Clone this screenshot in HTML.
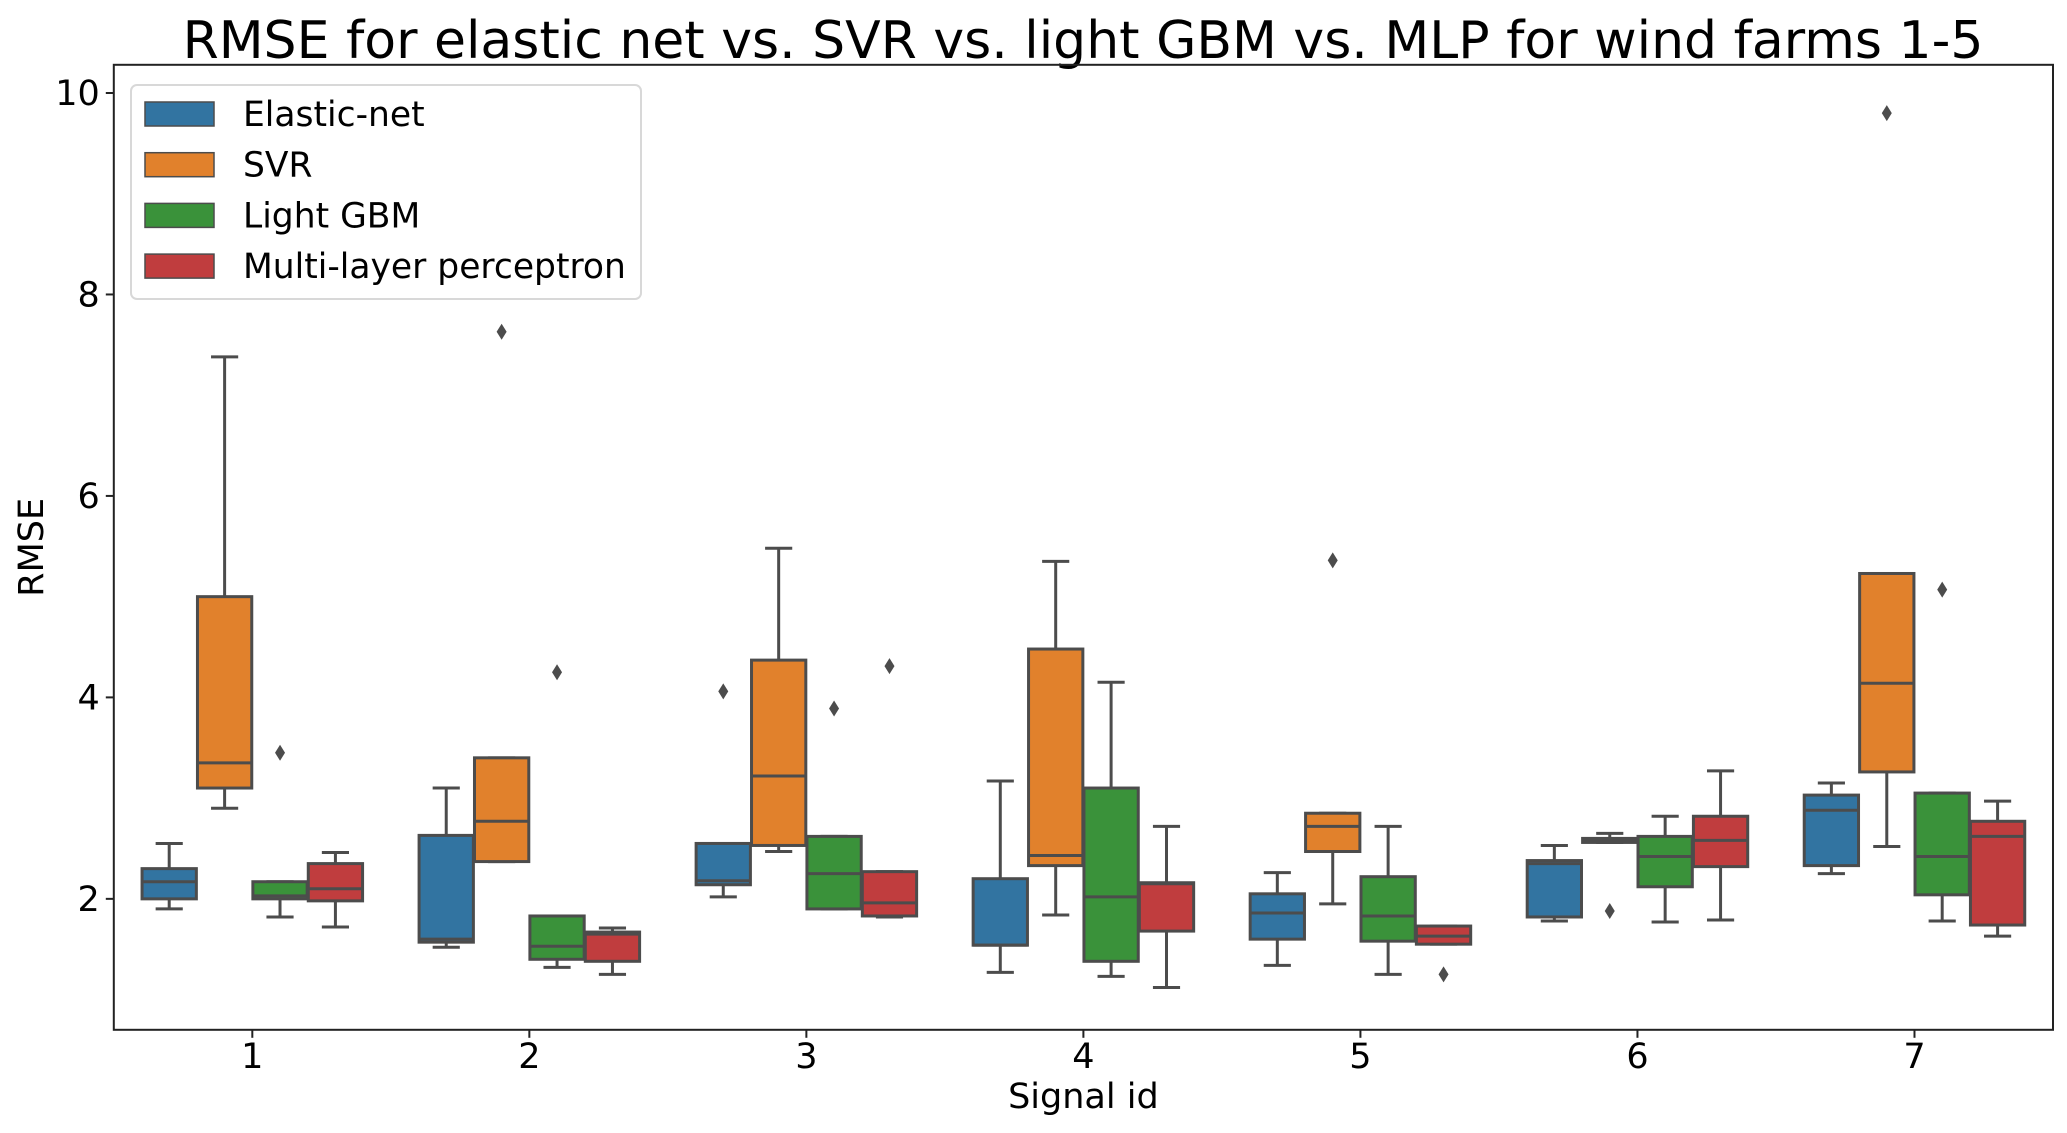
<!DOCTYPE html>
<html><head><meta charset="utf-8"><style>
html,body{margin:0;padding:0;background:#fff;}
svg{display:block;font-family:"DejaVu Sans","Liberation Sans",sans-serif;}
</style></head><body>
<svg id="chart" width="2067" height="1133" viewBox="0 0 2067 1133" xmlns="http://www.w3.org/2000/svg">
<rect x="0" y="0" width="2067" height="1133" fill="#fff"/>
<text x="1083" y="58" font-size="52" text-anchor="middle" fill="#000">RMSE for elastic net vs. SVR vs. light GBM vs. MLP for wind farms 1-5</text>
<g id="plot"></g>
<g id="axes"></g>
<g id="legend"></g>
</svg>
<script>
const categories = ["1","2","3","4","5","6","7"];
const seriesNames = ["Elastic-net","SVR","Light GBM","Multi-layer perceptron"];
const seriesColors = ["#3274a1","#e1812c","#3a923a","#c03d3e"];
const yTicks = [2,4,6,8,10];
// each box: [whiskerLow, q1, median, q3, whiskerHigh]
const elasticNet = [[1.9,2.0,2.17,2.3,2.55],[1.52,1.57,1.6,2.63,3.1],[2.02,2.14,2.18,2.55,2.55],[1.27,1.54,1.54,2.2,3.17],[1.34,1.6,1.86,2.05,2.26],[1.78,1.82,2.35,2.38,2.53],[2.25,2.33,2.88,3.03,3.15]];
const svr = [[2.9,3.1,3.35,5.0,7.38],[2.37,2.37,2.77,3.4,3.4],[2.47,2.53,3.22,4.37,5.48],[1.84,2.33,2.43,4.48,5.35],[1.95,2.47,2.72,2.85,2.85],[2.56,2.56,2.58,2.6,2.65],[2.52,3.26,4.14,5.23,5.23]];
const lightGbm = [[1.82,2.0,2.03,2.17,2.17],[1.32,1.4,1.53,1.83,1.83],[1.9,1.9,2.25,2.62,2.62],[1.23,1.38,2.02,3.1,4.15],[1.25,1.58,1.83,2.22,2.72],[1.77,2.12,2.42,2.62,2.82],[1.78,2.04,2.42,3.05,3.05]];
const mlp = [[1.72,1.98,2.1,2.35,2.46],[1.25,1.38,1.65,1.67,1.71],[1.82,1.83,1.96,2.27,2.27],[1.12,1.68,2.15,2.16,2.72],[1.55,1.55,1.63,1.73,1.73],[1.79,2.32,2.58,2.82,3.27],[1.63,1.74,2.62,2.77,2.97]];
// outliers: [categoryIndex, seriesIndex, value]
const outliers = [[0,2,3.45],[1,1,7.63],[1,2,4.25],[2,0,4.06],[2,2,3.89],[2,3,4.31],[4,1,5.36],[4,3,1.25],[5,1,1.88],[6,1,9.8],[6,2,5.07]];

const NS="http://www.w3.org/2000/svg";
const L=113.8,R=2053,T=64.8,B=1029.8,yMin=0.7,yMax=10.28;
const catW=(R-L)/categories.length;
function xScale(i){return L+(i+0.5)*catW;}
function yScale(v){return B-(v-yMin)/(yMax-yMin)*(B-T);}
function mk(tag,attrs,parent){const e=document.createElementNS(NS,tag);for(const k in attrs)e.setAttribute(k,attrs[k]);parent.appendChild(e);return e;}
const plot=document.getElementById('plot'),axes=document.getElementById('axes'),leg=document.getElementById('legend');
const allSeries=[elasticNet,svr,lightGbm,mlp];
const LC="#4c4c4c",LW=3;
const bw=catW*0.2*0.98;
allSeries.forEach((ser,s)=>{
  ser.forEach((d,i)=>{
    const cx=xScale(i)+(s-1.5)*catW*0.2;
    const g=mk('g',{},plot);
    
    
    const [lo,q1,md,q3,hi]=d;
    mk('line',{x1:cx,x2:cx,y1:yScale(lo),y2:yScale(q1),stroke:LC,'stroke-width':LW},g);
    mk('line',{x1:cx,x2:cx,y1:yScale(q3),y2:yScale(hi),stroke:LC,'stroke-width':LW},g);
    mk('line',{x1:cx-bw/4,x2:cx+bw/4,y1:yScale(lo),y2:yScale(lo),stroke:LC,'stroke-width':LW},g);
    mk('line',{x1:cx-bw/4,x2:cx+bw/4,y1:yScale(hi),y2:yScale(hi),stroke:LC,'stroke-width':LW},g);
    mk('rect',{x:cx-bw/2,y:yScale(q3),width:bw,height:Math.max(1,yScale(q1)-yScale(q3)),fill:seriesColors[s],stroke:LC,'stroke-width':LW},g);
    mk('line',{x1:cx-bw/2,x2:cx+bw/2,y1:yScale(md),y2:yScale(md),stroke:LC,'stroke-width':LW},g);
  });
});
outliers.forEach(o=>{
  const cx=xScale(o[0])+(o[1]-1.5)*catW*0.2,cy=yScale(o[2]);
  const p=mk('path',{d:`M${cx},${cy-8} L${cx+5},${cy} L${cx},${cy+8} L${cx-5},${cy} Z`,fill:LC},plot);
  
  
});
const fr=mk('rect',{x:L,y:T,width:R-L,height:B-T,fill:'none',stroke:'#222','stroke-width':2},axes);


yTicks.forEach(v=>{
  const y=yScale(v);
  mk('line',{x1:L-8,x2:L,y1:y,y2:y,stroke:'#222','stroke-width':2},axes);
  const t=mk('text',{x:L-14,y:y+12,'font-size':35,'text-anchor':'end',fill:'#000'},axes);
  t.textContent=v;
  
  
});
categories.forEach((c,i)=>{
  const x=xScale(i);
  mk('line',{x1:x,x2:x,y1:B,y2:B+8,stroke:'#222','stroke-width':2},axes);
  const t=mk('text',{x:x,y:B+38,'font-size':35,'text-anchor':'middle',fill:'#000'},axes);
  t.textContent=c;
  
  
});
const xl=mk('text',{x:(L+R)/2,y:1108,'font-size':35,'text-anchor':'middle',fill:'#000'},axes);
xl.textContent='Signal id';


const yl=mk('text',{x:0,y:0,'font-size':35,'text-anchor':'middle',fill:'#000',transform:`translate(43,${(T+B)/2}) rotate(-90)`},axes);
yl.textContent='RMSE';


const lb=mk('rect',{x:131,y:85,width:510,height:214,rx:6,fill:'#fff',stroke:'#d8d8d8','stroke-width':2},leg);


seriesNames.forEach((n,s)=>{
  const cy=114+s*50.7;
  const g=mk('g',{},leg);
  
  
  mk('rect',{x:145,y:cy-12,width:69,height:24,fill:seriesColors[s],stroke:LC,'stroke-width':1.5},g);
  const t=mk('text',{x:243,y:cy+12,'font-size':34.5,fill:'#000'},g);
  t.textContent=n;
});
</script>
</body></html>
